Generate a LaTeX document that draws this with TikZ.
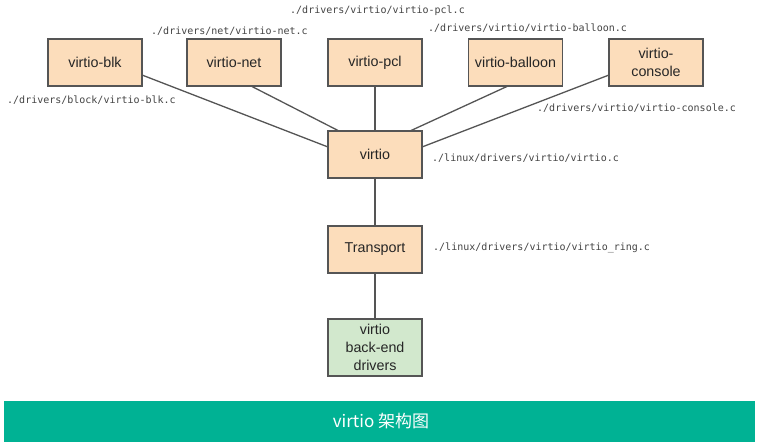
\documentclass[tikz,border=0pt]{standalone}
\usepackage{fontspec}
\setmainfont{Liberation Sans}
\setmonofont{DejaVu Sans Mono}
\newfontfamily\cjk{Noto Sans CJK SC}
\definecolor{peach}{HTML}{FCDDBB}
\definecolor{greenfill}{HTML}{D2E8CD}
\definecolor{edge}{HTML}{555555}
\definecolor{banner}{HTML}{00B294}
\definecolor{labgray}{HTML}{444444}
\begin{document}
\begin{tikzpicture}[x=1pt,y=-1pt,
  box/.style={draw=edge,line width=1.2pt,fill=peach,minimum width=94pt,minimum height=47pt,inner sep=0pt,align=center,font=\fontsize{14.3}{18}\selectfont,text=black!85},
  gbox/.style={box,fill=greenfill,minimum height=57pt},
  path/.style={anchor=west,font=\ttfamily\fontsize{10}{11}\selectfont,text=labgray,inner sep=0pt},
  conn/.style={draw=edge,line width=1.3pt}]
\useasboundingbox (0,0) rectangle (761,445);
\fill[white] (0,0) rectangle (761,445);
% boxes
\node[box] (blk) at (95,62.5) {virtio-blk};
\node[box] (net) at (234,62.5) {virtio-net};
\node[box] (pcl) at (375,62.5) {virtio-pcl};
\node[box] (balloon) at (515.5,62.5) {virtio-balloon};
\node[box] (console) at (656,62.5) {virtio-\\console};
\node[box] (virtio) at (375,154.5) {virtio};
\node[box] (transport) at (375,249.5) {Transport};
\node[gbox] (backend) at (375,347.5) {virtio\\back-end\\drivers};
% connector points on box borders
\coordinate (vL) at (328,147);
\coordinate (vTL) at (339,131);
\coordinate (vTR) at (410,131);
\coordinate (vR) at (422,147);
\coordinate (blkR) at (142,75);
\coordinate (netB) at (251,86);
\coordinate (balB) at (508,86);
\coordinate (conL) at (609,75);
\draw[conn] (blkR) -- (vL);
\draw[conn] (netB) -- (vTL);
\draw[conn] (pcl) -- (virtio);
\draw[conn] (balB) -- (vTR);
\draw[conn] (conL) -- (vR);
\draw[conn] (virtio) -- (transport);
\draw[conn] (transport) -- (backend);
% path labels
\node[path] (lpcl) at (290,11) {./drivers/virtio/virtio-pcl.c};
\node[path] (lnet) at (151,31) {./drivers/net/virtio-net.c};
\node[path] (lbal) at (428,28) {./drivers/virtio/virtio-balloon.c};
\node[path] (lblk) at (7,100) {./drivers/block/virtio-blk.c};
\node[path] (lcon) at (537,108) {./drivers/virtio/virtio-console.c};
\node[path] (lvir) at (432,158) {./linux/drivers/virtio/virtio.c};
\node[path] (lring) at (433,248) {./linux/drivers/virtio/virtio\_ring.c};
% banner
\fill[banner] (4,401) rectangle (755,442);
\node[text=white,font=\cjk\fontsize{17}{20}\selectfont,inner sep=0pt] (cap) at (381,421.5) {virtio 架构图};
\end{tikzpicture}
\end{document}
